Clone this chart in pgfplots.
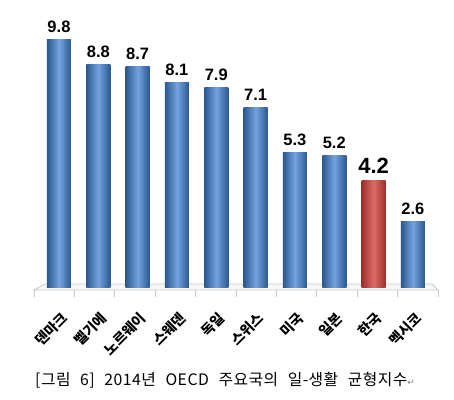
\documentclass[border=0pt]{standalone}
\usepackage{pgfplots}
\pgfplotsset{compat=1.18}
\usepackage{fontspec}
\setmainfont{Liberation Sans}
\newfontfamily\cjk{Noto Sans CJK KR}
\newfontfamily\cjkcap[WordSpace=2.4,LetterSpace=3]{Noto Sans CJK KR}
\newfontfamily\dejavu{DejaVu Sans}
\definecolor{bDark}{HTML}{2C5890}
\definecolor{bLight}{HTML}{73A3DE}
\definecolor{rDark}{HTML}{9E2F2C}
\definecolor{rLight}{HTML}{DE6A66}
\definecolor{floorc}{HTML}{C8C8C8}
\pgfplotsset{
  bluebar/.style={draw=none, left color=bDark, right color=bDark, middle color=bLight},
  redbar/.style={draw=none, left color=rDark, right color=rDark, middle color=rLight,
    every node near coord/.append style={font=\fontsize{22}{24}\selectfont\bfseries}},
}
\begin{document}
\begin{tikzpicture}[x=1pt,y=1pt]
\useasboundingbox (0,0) rectangle (454,399);
\begin{axis}[
  at={(39.3pt,112pt)}, anchor=south west,
  scale only axis, width=393.3pt, height=278.3pt,
  xmin=-0.5, xmax=9.5, ymin=0, ymax=11,
  clip=false,
  axis lines=none,
  xtick={0,...,9},
  ytick=\empty,
  ybar, bar width=24pt, bar shift=0pt,
  point meta=explicit symbolic,
  nodes near coords,
  every node near coord/.append style={anchor=base, yshift=7pt, inner sep=0pt, font=\fontsize{16.5}{18}\selectfont\bfseries, text=black},
]
\draw[floorc, fill=gray!6, line width=0.8pt] (axis cs:-0.636,-0.12) -- (axis cs:9.636,-0.12) -- (axis cs:9.484,0.12) -- (axis cs:-0.356,0.12) -- cycle;
\pgfplotsinvokeforeach{0,...,10}{
  \draw[floorc, line width=0.8pt] (axis cs:{-0.636+1.0272*#1},-0.12) -- (axis cs:{-0.636+1.0272*#1},-0.40);
}
\addplot[bluebar] coordinates {(0,9.8) [9.8]};
\addplot[bluebar] coordinates {(1,8.8) [8.8]};
\addplot[bluebar] coordinates {(2,8.7) [8.7]};
\addplot[bluebar] coordinates {(3,8.1) [8.1]};
\addplot[bluebar] coordinates {(4,7.9) [7.9]};
\addplot[bluebar] coordinates {(5,7.1) [7.1]};
\addplot[bluebar] coordinates {(6,5.3) [5.3]};
\addplot[bluebar] coordinates {(7,5.2) [5.2]};
\addplot[redbar] coordinates {(8,4.2) [4.2]};
\addplot[bluebar] coordinates {(9,2.6) [2.6]};
\end{axis}
\foreach \i/\lab in {0/덴마크,1/벨기에,2/노르웨이,3/스웨덴,4/독일,5/스위스,6/미국,7/일본,8/한국,9/멕시코}{
  \node[rotate=45, anchor=north east, inner sep=0pt, font=\cjk\fontsize{14}{15}\selectfont\bfseries] at ({60+39.33*\i}, 88) {\lab};
}
\node[anchor=base west, inner sep=0pt, font=\cjkcap\fontsize{15.8}{17}\selectfont] at (35, 14) {[그림 6] 2014년 OECD 주요국의 일-생활 균형지수{\dejavu\fontsize{9}{10}\selectfont\color{gray}↵}};
\end{tikzpicture}
\end{document}
